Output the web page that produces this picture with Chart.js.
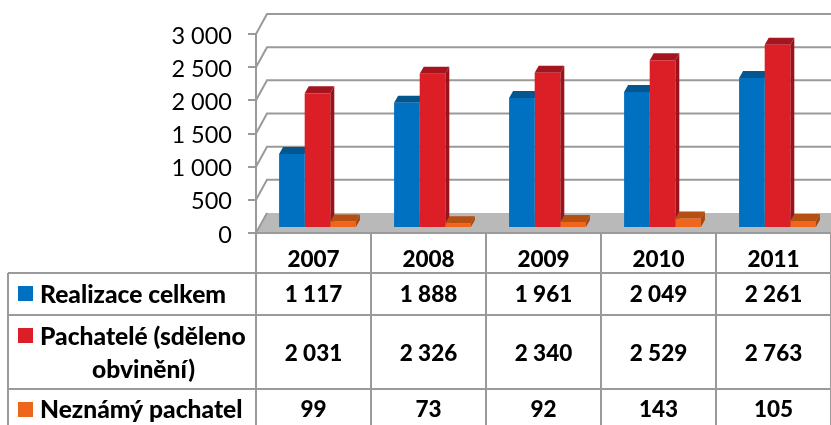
<!DOCTYPE html>
<html>
<head>
<meta charset="utf-8">
<style>
  html, body { margin: 0; padding: 0; background: #fff; overflow: hidden; }
  canvas { display: block; }
</style>
<script src="https://cdn.jsdelivr.net/npm/chart.js@4"></script>
</head>
<body>
<canvas id="chart" width="831" height="425"></canvas>
<script>
  const years = ['2007', '2008', '2009', '2010', '2011'];
  const realizace = [1117, 1888, 1961, 2049, 2261];
  const pachatele = [2031, 2326, 2340, 2529, 2763];
  const neznamy = [99, 73, 92, 143, 105];
  const rowLabels = [['Realizace celkem'], ['Pachatelé (sděleno', 'obvinění)'], ['Neznámý pachatel']];
  const yTicks = [0, 500, 1000, 1500, 2000, 2500, 3000];

  const lineColor = '#9a9a9a';
  const fontName = 'Lato, Carlito, sans-serif';
  const fmt = v => String(v).replace(/\B(?=(\d{3})+$)/g, ' ');

  // fake 3D: how far the back wall and the bars sit from the axes
  const wallDx = 11, wallDy = -20;
  const barDx = 4, barDy = -5;
  const depthX = 4, depthY = -7;

  const walls3d = {
    id: 'walls3d',
    beforeDatasetsDraw(chart) {
      const { ctx, chartArea: a, scales: { y } } = chart;
      ctx.save();
      // floor
      ctx.fillStyle = '#b9b9b9';
      ctx.beginPath();
      ctx.moveTo(a.left, a.bottom);
      ctx.lineTo(a.left + wallDx, a.bottom + wallDy);
      ctx.lineTo(a.right, a.bottom + wallDy);
      ctx.lineTo(a.right, a.bottom);
      ctx.closePath();
      ctx.fill();
      // back wall grid lines
      ctx.strokeStyle = lineColor;
      ctx.lineWidth = 2;
      yTicks.forEach(v => {
        const py = y.getPixelForValue(v);
        ctx.beginPath();
        ctx.moveTo(a.left, py);
        ctx.lineTo(a.left + wallDx, py + wallDy);
        if (v > 0) ctx.lineTo(a.right, py + wallDy);
        ctx.stroke();
      });
      // top and side faces of every bar, the fronts come later on top of them
      ctx.translate(barDx, barDy);
      chart.data.datasets.forEach((ds, di) => {
        chart.getDatasetMeta(di).data.forEach(bar => {
          const { x, y: top, base, width } = bar.getProps(['x', 'y', 'base', 'width']);
          const l = x - width / 2, r = x + width / 2;
          ctx.fillStyle = ds.topColor;
          ctx.beginPath();
          ctx.moveTo(l, top);
          ctx.lineTo(l + depthX, top + depthY);
          ctx.lineTo(r + depthX, top + depthY);
          ctx.lineTo(r, top);
          ctx.closePath();
          ctx.fill();
          ctx.fillStyle = ds.sideColor;
          ctx.beginPath();
          ctx.moveTo(r, top);
          ctx.lineTo(r + depthX, top + depthY);
          ctx.lineTo(r + depthX, base + depthY);
          ctx.lineTo(r, base);
          ctx.closePath();
          ctx.fill();
        });
      });
      ctx.restore();
    },
    beforeDatasetDraw(chart) {
      chart.ctx.save();
      chart.ctx.translate(barDx, barDy);
    },
    afterDatasetDraw(chart) {
      chart.ctx.restore();
    }
  };

  // data table under the plot
  const dataTable = {
    id: 'dataTable',
    afterDraw(chart) {
      const { ctx, chartArea: a, scales: { x } } = chart;
      const rows = [
        { top: 273, bottom: 315, values: realizace, color: '#0070c0', keyY: 286, textY: [295] },
        { top: 315, bottom: 389, values: pachatele, color: '#dc1f26', keyY: 328, textY: [337, 370], textX: [40, 92] },
        { top: 389, bottom: 431, values: neznamy, color: '#ee651b', keyY: 402, textY: [410] }
      ];
      const tableLeft = 8;
      ctx.save();
      ctx.strokeStyle = lineColor;
      ctx.lineWidth = 2;
      ctx.beginPath();
      // top edge of the year row is the axis itself
      ctx.moveTo(a.left, a.bottom);
      ctx.lineTo(a.right, a.bottom);
      rows.forEach(r => {
        ctx.moveTo(tableLeft, r.top);
        ctx.lineTo(a.right, r.top);
      });
      ctx.moveTo(tableLeft, rows[0].top);
      ctx.lineTo(tableLeft, 425);
      const colW = (a.right - a.left) / years.length;
      for (let i = 0; i <= years.length; i++) {
        const cx = a.left + i * colW;
        ctx.moveTo(cx, a.bottom);
        ctx.lineTo(cx, 425);
      }
      ctx.stroke();

      ctx.fillStyle = '#000';
      ctx.textBaseline = 'middle';
      rows.forEach((r, ri) => {
        ctx.fillStyle = r.color;
        ctx.fillRect(18, r.keyY, 15, 15);
        ctx.fillStyle = '#000';
        ctx.font = '900 24.6px ' + fontName;
        ctx.textAlign = 'left';
        rowLabels[ri].forEach((t, li) => {
          ctx.fillText(t, r.textX ? r.textX[li] : 40, r.textY[li]);
        });
        ctx.font = '900 22.5px ' + fontName;
        ctx.textAlign = 'center';
        const midY = r.textY.length > 1 ? (r.top + r.bottom) / 2 + 2 : r.textY[0];
        r.values.forEach((v, i) => {
          ctx.fillText(fmt(v), x.getPixelForValue(i), midY);
        });
      });
      ctx.restore();
    }
  };

  new Chart(document.getElementById('chart'), {
    type: 'bar',
    data: {
      labels: years,
      datasets: [
        { label: 'Realizace celkem', data: realizace, backgroundColor: '#0070c0', topColor: '#04568f', sideColor: '#04568f', clip: false },
        { label: 'Pachatelé (sděleno obvinění)', data: pachatele, backgroundColor: '#dc1f26', topColor: '#a5151f', sideColor: '#98131c', clip: false },
        { label: 'Neznámý pachatel', data: neznamy, backgroundColor: '#ee651b', topColor: '#b54f12', sideColor: '#a8480f', clip: false }
      ]
    },
    options: {
      responsive: false,
      animation: false,
      layout: { padding: { top: 34, right: -1 } },
      datasets: { bar: { categoryPercentage: 0.668, barPercentage: 1 } },
      plugins: { legend: { display: false }, tooltip: { enabled: false } },
      scales: {
        x: {
          afterFit(scale) { scale.height = 192; },
          grid: { display: false },
          border: { display: false },
          ticks: { padding: 5, maxRotation: 0, autoSkip: false, color: '#000', font: { family: fontName, size: 22.5, weight: '900' } }
        },
        y: {
          min: 0,
          max: 3000,
          afterFit(scale) { scale.width = 256; },
          afterBuildTicks(scale) { scale.ticks = yTicks.map(v => ({ value: v })); },
          grid: { drawOnChartArea: false, drawTicks: true, tickLength: 8, color: lineColor, lineWidth: 2 },
          border: { display: true, color: lineColor, width: 2 },
          ticks: { padding: 16, labelOffset: 2, color: '#000', font: { family: fontName, size: 23.5 }, callback: v => fmt(v) }
        }
      }
    },
    plugins: [walls3d, dataTable]
  });
</script>
</body>
</html>
